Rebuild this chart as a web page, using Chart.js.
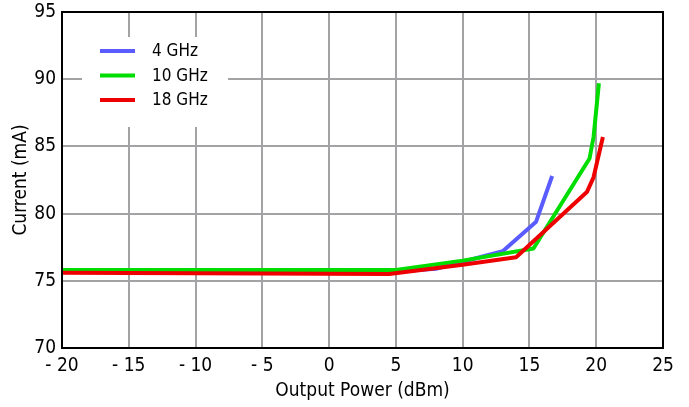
<!DOCTYPE html>
<html>
<head>
<meta charset="utf-8">
<script src="https://cdn.jsdelivr.net/npm/chart.js@4"></script>
<style>
  html, body { margin: 0; padding: 0; background: #fff; }
  #wrap { width: 689px; height: 407px; }
</style>
</head>
<body>
<div id="wrap"><canvas id="myChart"></canvas></div>
<script>
const seriesNames = ['4 GHz', '10 GHz', '18 GHz'];
const seriesColors = ['#5a5cff', '#00dd00', '#ee0000'];

const powerX4 = [-20, 5, 8, 13, 15.5, 16.7];
const current4 = [75.7, 75.7, 75.9, 77.2, 79.4, 82.8];

const powerX10 = [-20, 5, 10, 15.3, 19.5, 19.8, 20.2];
const current10 = [75.8, 75.8, 76.5, 77.4, 84.1, 85.7, 89.7];

const powerX18 = [-20, 4.5, 10, 14, 19.3, 19.8, 20.5];
const current18 = [75.6, 75.5, 76.2, 76.75, 81.6, 82.7, 85.7];

const xTicks = [-20, -15, -10, -5, 0, 5, 10, 15, 20, 25];
const yTicks = [70, 75, 80, 85, 90, 95];

const FONT = "'DejaVu Sans Condensed', 'DejaVu Sans', sans-serif";

const toPoints = (xs, ys) => xs.map((x, i) => ({ x: x, y: ys[i] }));

const frameBox = {
    id: 'frameBox',
    afterDatasetsDraw(chart) {
        const a = chart.chartArea;
        const c = chart.ctx;
        c.save();
        c.strokeStyle = '#000';
        c.lineWidth = 2;
        c.strokeRect(a.left, a.top, a.right - a.left, a.bottom - a.top);
        c.restore();
    }
};

const innerLegend = {
    id: 'innerLegend',
    afterDraw(chart) {
        const a = chart.chartArea;
        const c = chart.ctx;
        c.save();
        c.fillStyle = '#fff';
        c.fillRect(a.left + 20, a.top + 25, 146, 90);
        c.font = '17px ' + FONT;
        c.textBaseline = 'middle';
        chart.data.datasets.forEach((ds, i) => {
            const y = a.top + 39 + i * 24.5;
            c.strokeStyle = ds.borderColor;
            c.lineWidth = 4;
            c.beginPath();
            c.moveTo(a.left + 38, y);
            c.lineTo(a.left + 73, y);
            c.stroke();
            c.fillStyle = '#000';
            c.fillText(ds.label, a.left + 90, y + 1);
        });
        c.restore();
    }
};

const ctx = document.getElementById('myChart');

const currentChart = new Chart(ctx, {
    type: 'line',
    data: {
        datasets: [
            { label: seriesNames[0], data: toPoints(powerX4, current4), borderColor: seriesColors[0], order: 3 },
            { label: seriesNames[1], data: toPoints(powerX10, current10), borderColor: seriesColors[1], order: 2 },
            { label: seriesNames[2], data: toPoints(powerX18, current18), borderColor: seriesColors[2], order: 1 }
        ]
    },
    options: {
        responsive: true,
        maintainAspectRatio: false,
        animation: false,
        parsing: false,
        elements: {
            line: { borderWidth: 4, tension: 0, fill: false, borderJoinStyle: 'round' },
            point: { radius: 0 }
        },
        layout: { padding: { top: 12, right: 26, left: 0, bottom: 0 } },
        plugins: {
            legend: { display: false },
            tooltip: { enabled: false }
        },
        scales: {
            x: {
                type: 'linear',
                min: -20,
                max: 25,
                afterBuildTicks: (axis) => { axis.ticks = xTicks.map(v => ({ value: v })); },
                afterFit: (axis) => { axis.height = 59; axis.paddingLeft = 0; axis.paddingRight = 0; },
                grid: { color: '#a3a3a6', lineWidth: 2, drawTicks: false },
                border: { color: '#000', width: 2 },
                ticks: {
                    color: '#000',
                    font: { family: FONT, size: 19 },
                    padding: 7,
                    callback: (v) => v < 0 ? '- ' + Math.abs(v) : String(v)
                },
                title: {
                    display: true,
                    text: 'Output Power (dBm)',
                    color: '#000',
                    font: { family: FONT, size: 19 },
                    padding: { top: 0, bottom: 5 }
                }
            },
            y: {
                type: 'linear',
                min: 70,
                max: 95,
                afterBuildTicks: (axis) => { axis.ticks = yTicks.map(v => ({ value: v })); },
                afterFit: (axis) => { axis.width = 62; axis.paddingTop = 0; axis.paddingBottom = 0; },
                grid: { color: '#a3a3a6', lineWidth: 2, drawTicks: false },
                border: { color: '#000', width: 2 },
                ticks: {
                    color: '#000',
                    font: { family: FONT, size: 19 },
                    padding: 6
                },
                title: {
                    display: true,
                    text: 'Current (mA)',
                    color: '#000',
                    font: { family: FONT, size: 19 },
                    padding: 10
                }
            }
        }
    },
    plugins: [frameBox, innerLegend]
});
</script>
</body>
</html>
